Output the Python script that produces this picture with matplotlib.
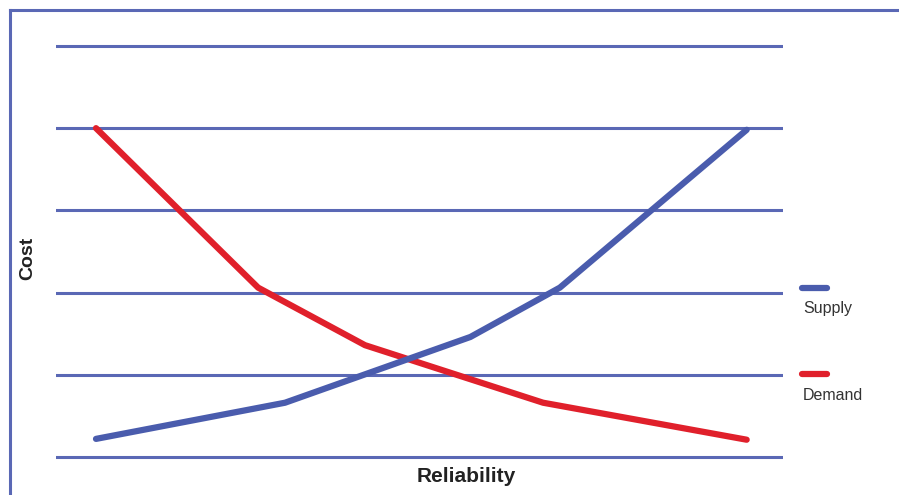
'''
supply vs demand cost curves over reliability
'''
import matplotlib.pyplot as plt
from matplotlib.lines import Line2D

plt.rcParams['font.family'] = ['Liberation Sans', 'DejaVu Sans']

# reliability axis runs 0..100, cost axis 0..5 (one unit per gridline)
supply_x = [5.5, 31.5, 57.0, 69.3, 95.0]
supply_y = [0.22, 0.66, 1.46, 2.06, 3.98]
demand_x = [5.5, 27.8, 42.5, 67.0, 95.0]
demand_y = [4.0, 2.06, 1.36, 0.66, 0.21]
grid_levels = [0, 1, 2, 3, 4, 5]
series_names = ['Supply', 'Demand']

blue = '#4a5cad'
red = '#e0202b'
grid_col = '#5a68b5'

fig = plt.figure(figsize=(8.99, 4.95), dpi=100)
ax = fig.add_axes([0.0623, 0.0436, 0.8087, 0.8968])
ax.set_xlim(0, 100)
ax.set_ylim(-0.2, 5.2)

for lvl in grid_levels:
    ax.axhline(lvl, color=grid_col, lw=2.2, zorder=1)

ax.plot(supply_x, supply_y, color=blue, lw=4.5, solid_capstyle='round',
        solid_joinstyle='round', zorder=3)
ax.plot(demand_x, demand_y, color=red, lw=4.5, solid_capstyle='round',
        solid_joinstyle='round', zorder=2)

ax.set_xticks([])
ax.set_yticks([])
for s in ax.spines.values():
    s.set_visible(False)

# outer frame: top and left edge only
fig.add_artist(Line2D([10/899, 1.0], [1 - 10/495, 1 - 10/495], color=grid_col, lw=2.2))
fig.add_artist(Line2D([10/899, 10/899], [0, 1 - 10/495], color=grid_col, lw=2.2))

fig.text(28/899, 1 - 258/495, 'Cost', rotation=90, fontsize=14, fontweight='bold',
         ha='center', va='center', color='#222222')
fig.text(466/899, 1 - 476/495, 'Reliability', fontsize=15, fontweight='bold',
         ha='center', va='center', color='#222222')

# legend: short swatch with the name underneath
for name, col, y0 in zip(series_names, [blue, red], [288, 374]):
    fig.add_artist(Line2D([802/899, 827/899], [1 - y0/495, 1 - y0/495], color=col,
                          lw=4.5, solid_capstyle='round'))
    fig.text(803/899, 1 - (y0 + 21)/495, name, fontsize=11.5, ha='left', va='center',
             color='#333333')

plt.savefig('out.png', dpi=100)
